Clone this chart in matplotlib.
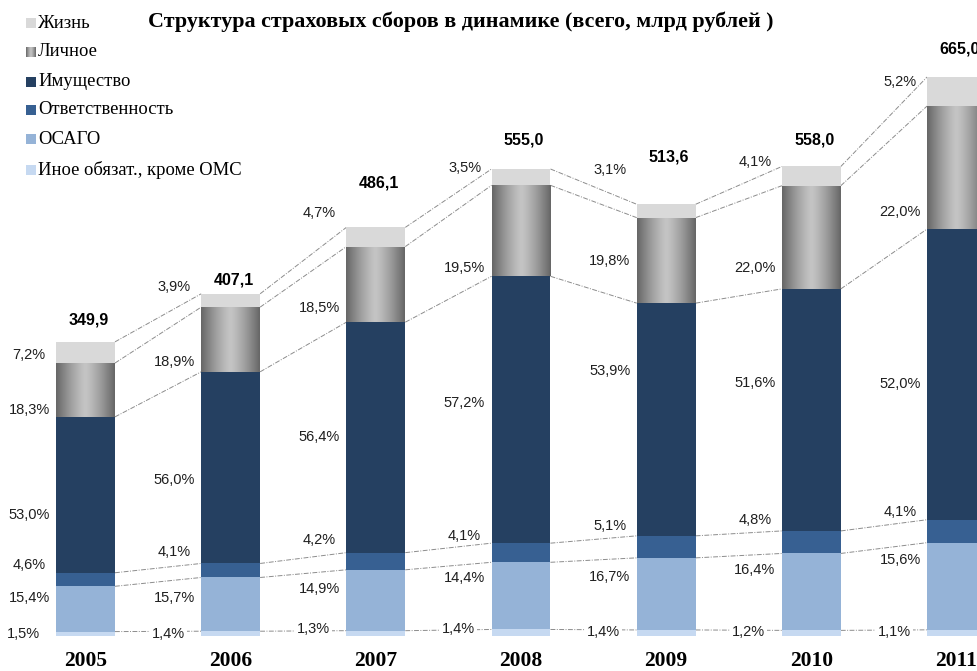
import numpy as np
import matplotlib.pyplot as plt
from matplotlib.colors import LinearSegmentedColormap

# data (shares in %, bottom to top of each bar)
years = ['2005', '2006', '2007', '2008', '2009', '2010', '2011']
totals = [349.9, 407.1, 486.1, 555.0, 513.6, 558.0, 665.0]
other = [1.5, 1.4, 1.3, 1.4, 1.4, 1.2, 1.1]
osago = [15.4, 15.7, 14.9, 14.4, 16.7, 16.4, 15.6]
liability = [4.6, 4.1, 4.2, 4.1, 5.1, 4.8, 4.1]
property_ = [53.0, 56.0, 56.4, 57.2, 53.9, 51.6, 52.0]
personal = [18.3, 18.9, 18.5, 19.5, 19.8, 22.0, 22.0]
life = [7.2, 3.9, 4.7, 3.5, 3.1, 4.1, 5.2]

names = ['Иное обязат., кроме ОМС', 'ОСАГО', 'Ответственность',
         'Имущество', 'Личное', 'Жизнь']
colors = ['#c6d9f1', '#95b3d7', '#376092', '#254061', None, '#d9d9d9']

# label nudges in pixels (positive = down), per series bottom to top
label_dy = [
    [0, 0, -4, -4, -1, -1, -1],
    [-11, -6, -11, -18, -17, -22, -26],
    [-15, -18, -21, -17, -21, -22, -19],
    [20, 12, 0, -7, -48, -27, 10],
    [20, 23, 24, 37, 1, 31, 44],
    [3, -13, -24, -9, -41, -14, -10],
]
label_dx = [33, 27, 27, 27, 27, 27]
total_dy = [22, 14, 44, 29, 47, 26, 28]

W, H = 978, 671
PT = 0.72  # points per pixel at dpi 100
SANS = ['Liberation Sans', 'DejaVu Sans']
SERIF = ['Liberation Serif', 'DejaVu Serif']

fig = plt.figure(figsize=(W / 100, H / 100), dpi=100)
ax = fig.add_axes([0, 0, 1, 1])
ax.axis('off')

x = np.arange(len(years))
bw = 0.406
shares = np.array([other, osago, liability, property_, personal, life])
heights = shares * np.array(totals) / 100.0
bottoms = np.vstack([np.zeros(len(years)), np.cumsum(heights, axis=0)[:-1]])
tops = bottoms + heights

grad_cmap = LinearSegmentedColormap.from_list('g', ['#666666', '#c4c4c4'])
grad = 1 - np.abs(np.linspace(-1, 1, 128)) ** 1.3

for s in range(len(names)):
    if colors[s] is None:
        for i in x:
            ax.imshow(grad[None, :], cmap=grad_cmap, aspect='auto',
                      extent=(i - bw / 2, i + bw / 2, bottoms[s, i], tops[s, i]),
                      zorder=2, interpolation='bilinear')
    else:
        ax.bar(x, heights[s], bottom=bottoms[s], width=bw, color=colors[s],
               linewidth=0, zorder=2)

# connecting lines between the segment boundaries
for s in range(len(names)):
    for i in x[:-1]:
        ax.plot([i + bw / 2, i + 1 - bw / 2], [tops[s, i], tops[s, i + 1]],
                color='#8c8c8c', lw=0.7, ls=(0, (5, 1.5, 1, 1.5)), zorder=1)

# percentage labels
for s in range(len(names)):
    for i in x:
        txt = f"{shares[s, i]:.1f}".replace('.', ',') + '%'
        yc = (bottoms[s, i] + tops[s, i]) / 2
        kw = {}
        if s == 0:
            kw['bbox'] = dict(fc='white', ec='none', pad=1.5)
        ax.annotate(txt, (i - bw / 2, yc),
                    xytext=(-label_dx[s] * PT, -label_dy[s][i] * PT),
                    textcoords='offset points', ha='center', va='center',
                    fontsize=10.5, color='#1f1f1f', family=SANS, zorder=3, **kw)

# totals above bars
for i in x:
    ax.annotate(f"{totals[i]:.1f}".replace('.', ','), (i, tops[-1, i]),
                xytext=(3 * PT, total_dy[i] * PT), textcoords='offset points',
                ha='center', va='center', fontsize=11.5, fontweight='bold',
                family=SANS, color='black')

# year labels
for i in x:
    ax.annotate(years[i], (i, 0), xytext=(0, -25 * PT),
                textcoords='offset points', ha='center', va='center',
                fontsize=15.5, fontweight='bold', family=SERIF)

k = 559 / 665.0
ax.set_xlim(-85.5 / 145.17, (W - 85.5) / 145.17)
ax.set_ylim(-(H - 636) / k, 636 / k)

# overlay in pixel coordinates for title and legend
ov = fig.add_axes([0, 0, 1, 1], facecolor='none')
ov.axis('off')

ov.text(148, 22, 'Структура страховых сборов в динамике (всего, млрд рублей )',
        ha='left', va='center', fontsize=15.8, fontweight='bold', family=SERIF)

leg_y = [23, 52, 82, 110, 139, 170]
for j, s in enumerate(range(len(names) - 1, -1, -1)):
    y = leg_y[j]
    if colors[s] is None:
        ov.imshow(grad[None, :], cmap=grad_cmap, aspect='auto',
                  extent=(26, 36, y + 5, y - 5), interpolation='bilinear')
    else:
        ov.add_patch(plt.Rectangle((26, y - 5), 10, 10, color=colors[s], lw=0))
    ov.text(38, y, names[s], ha='left', va='center', fontsize=13.4, family=SERIF)
ov.set_xlim(0, W)
ov.set_ylim(H, 0)

fig.savefig('out.png', dpi=100)
